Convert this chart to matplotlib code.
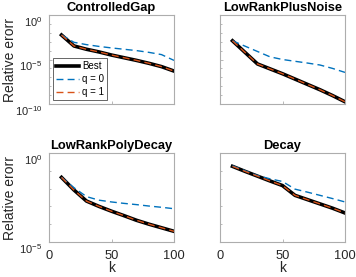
import matplotlib
matplotlib.use('Agg')
import matplotlib.pyplot as plt
import numpy as np

plt.rcParams['font.family'] = ['Liberation Sans', 'DejaVu Sans']
plt.rcParams['mathtext.fontset'] = 'custom'
plt.rcParams['mathtext.rm'] = 'Liberation Sans'
plt.rcParams['mathtext.it'] = 'Liberation Sans'

# k values, errors stored as log10 of relative error
k = [10, 20, 30, 40, 50, 60, 70, 80, 90, 100]

titles = ['ControlledGap', 'LowRankPlusNoise', 'LowRankPolyDecay', 'Decay']

best_gap = [-2.25, -3.48, -3.85, -4.15, -4.5, -4.8, -5.1, -5.43, -5.8, -6.3]
q0_gap = [-2.25, -3.07, -3.33, -3.53, -3.7, -3.85, -4.0, -4.2, -4.45, -5.1]

best_noise = [-2.9, -4.2, -5.5, -6.05, -6.6, -7.2, -7.8, -8.4, -9.05, -9.75]
q0_noise = [-2.9, -3.5, -4.1, -4.7, -5.0, -5.2, -5.4, -5.62, -6.0, -6.45]

best_poly = [-1.37, -2.08, -2.7, -3.0, -3.27, -3.52, -3.78, -4.0, -4.2, -4.4]
q0_poly = [-1.37, -1.95, -2.45, -2.65, -2.75, -2.83, -2.9, -2.98, -3.05, -3.13]

best_decay = [-0.75, -1.03, -1.3, -1.57, -1.83, -2.38, -2.62, -2.86, -3.1, -3.37]
q0_decay = [-0.72, -1.0, -1.27, -1.45, -1.6, -2.03, -2.2, -2.38, -2.56, -2.75]

best_all = [best_gap, best_noise, best_poly, best_decay]
q0_all = [q0_gap, q0_noise, q0_poly, q0_decay]
q1_all = best_all  # q = 1 matches the best curve

blue = (0, 0.447, 0.741)
orange = (0.85, 0.325, 0.098)
spine = (0.68, 0.68, 0.68)
txt = (0.15, 0.15, 0.15)

W, H = 356.0, 277.0
boxes = [(49, 15), (220, 15), (49, 153), (220, 153)]
fig = plt.figure(figsize=(3.56, 2.77), dpi=100)

for i in range(4):
    x0, y0 = boxes[i]
    ax = fig.add_axes([x0 / W, 1 - (y0 + 89) / H, 125 / W, 89 / H])
    kk = np.array(k)
    hb, = ax.plot(kk, 10.0 ** np.array(best_all[i]), color='k', lw=2.6, label='Best')
    h0, = ax.plot(kk, 10.0 ** np.array(q0_all[i]), color=blue, lw=1.0, ls=(0, (5, 3)), label='q = 0')
    h1, = ax.plot(kk, 10.0 ** np.array(q1_all[i]), color=orange, lw=1.0, ls=(0, (5, 3)), label='q = 1')
    ax.set_yscale('log')
    ax.set_xlim(0, 100)
    if i < 2:
        ax.set_ylim(1e-10, 1)
        ax.set_yticks([1e-10, 1e-5, 1])
        ax.set_yticks([10.0 ** e for e in range(-9, 0) if e != -5], minor=True)
        labs = [r'$10^{-10}$', r'$10^{-5}$', r'$10^{0}$']
    else:
        ax.set_ylim(1e-5, 1)
        ax.set_yticks([1e-5, 1])
        ax.set_yticks([10.0 ** e for e in range(-4, 0)], minor=True)
        labs = [r'$10^{-5}$', r'$10^{0}$']
    ax.set_xticks([0, 50, 100])
    ax.tick_params(which='both', direction='in', color=spine, labelcolor=txt, length=2.5, width=0.6)
    ax.tick_params(axis='x', labelsize=9.3, pad=6)
    ax.tick_params(axis='y', labelsize=8, pad=5)
    ax.tick_params(which='minor', length=1.5)
    ax.yaxis.set_tick_params(which='minor', labelleft=False)
    if i % 2 == 0:
        ax.set_yticklabels(labs, va='top')
        ax.set_ylabel('Relative erorr', fontsize=10, color=txt)
        ax.yaxis.set_label_coords(-0.256, 0.5)
    else:
        ax.set_yticklabels([])
    if i < 2:
        ax.set_xticklabels([])
    else:
        ax.set_xlabel('k', fontsize=10, color=txt, labelpad=-1)
    for s in ax.spines.values():
        s.set_color(spine)
        s.set_linewidth(0.8)
    ax.set_title(titles[i], fontsize=9.3, fontweight='bold', pad=3)
    if i == 0:
        leg = ax.legend(handles=[hb, h0, h1], loc='lower left', fontsize=7, handlelength=2.4,
                        borderpad=0.3, labelspacing=0.3, handletextpad=0.3, borderaxespad=0.4,
                        fancybox=False, framealpha=1)
        leg.get_frame().set_edgecolor((0.3, 0.3, 0.3))
        leg.get_frame().set_linewidth(0.6)

fig.savefig('out.png', dpi=100)
